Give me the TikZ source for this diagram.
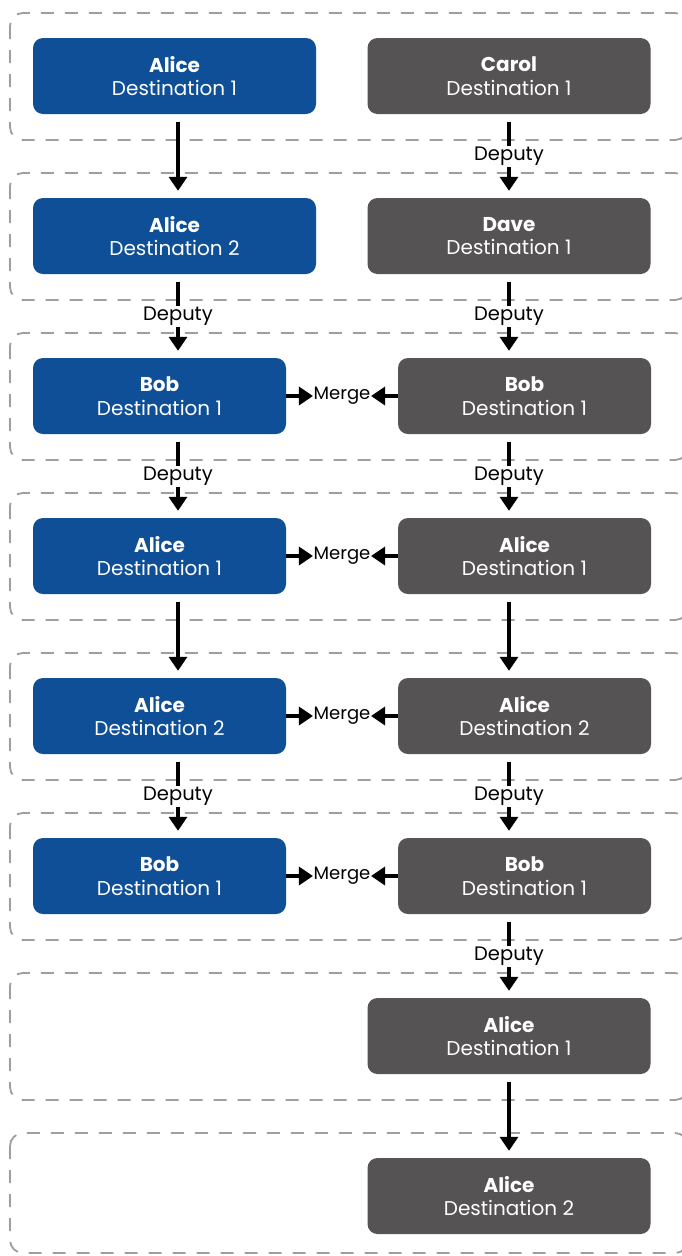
\documentclass[tikz,border=0pt]{standalone}
\usepackage{fontspec}
\setmainfont{Poppins}
\usetikzlibrary{arrows.meta,calc}
\definecolor{nblue}{HTML}{0E4F97}
\definecolor{ngray}{HTML}{555354}
\definecolor{dgray}{HTML}{9E9E9E}
\begin{document}
\begin{tikzpicture}[x=1pt,y=-1pt,
 box/.style={rectangle, rounded corners=10pt, minimum height=76pt, text=white, font=\fontsize{20}{23.5}\selectfont, align=center, inner sep=0pt},
 bluebox/.style={box, fill=nblue},
 graybox/.style={box, fill=ngray},
 wide/.style={minimum width=283pt},
 narrow/.style={minimum width=253pt},
 group/.style={draw=dgray, line width=1.8pt, dash pattern=on 13pt off 11pt, rounded corners=13pt},
 flow/.style={line width=3.3pt, -{Triangle[length=14pt,width=18pt]}},
 lbl/.style={fill=white, text=black, font=\fontsize{19.5}{22}\selectfont, inner sep=1.5pt},
 mlbl/.style={text=black, font=\fontsize{18}{20}\selectfont, inner sep=0.5pt}
]
\useasboundingbox (0,0) rectangle (682,1256);
\fill[white] (0,0) rectangle (682,1256);
\begin{scope}
\clip (0,0) rectangle (682,1256);
\foreach \t/\b in {13/140,173/300,333/460,493/620,653/780,813/940,973/1100,1133/1253}
  \draw[group] (10,\t) rectangle (688,\b);
\end{scope}

\coordinate (cl) at (178,0);
\coordinate (cr) at (509,0);

% left column
\node[bluebox,wide]   (L1) at (174.5,76)  {\textbf{Alice}\\Destination 1};
\node[bluebox,wide]   (L2) at (174.5,236) {\textbf{Alice}\\Destination 2};
\node[bluebox,narrow] (L3) at (159.5,396) {\textbf{Bob}\\Destination 1};
\node[bluebox,narrow] (L4) at (159.5,556) {\textbf{Alice}\\Destination 1};
\node[bluebox,narrow] (L5) at (159.5,716) {\textbf{Alice}\\Destination 2};
\node[bluebox,narrow] (L6) at (159.5,876) {\textbf{Bob}\\Destination 1};
% right column
\node[graybox,wide]   (R1) at (509,76)    {\textbf{Carol}\\Destination 1};
\node[graybox,wide]   (R2) at (509,236)   {\textbf{Dave}\\Destination 1};
\node[graybox,narrow] (R3) at (524.5,396) {\textbf{Bob}\\Destination 1};
\node[graybox,narrow] (R4) at (524.5,556) {\textbf{Alice}\\Destination 1};
\node[graybox,narrow] (R5) at (524.5,716) {\textbf{Alice}\\Destination 2};
\node[graybox,narrow] (R6) at (524.5,876) {\textbf{Bob}\\Destination 1};
\node[graybox,wide]   (R7) at (509,1036)  {\textbf{Alice}\\Destination 1};
\node[graybox,wide]   (R8) at (509,1196)  {\textbf{Alice}\\Destination 2};

% vertical arrows, left
\draw[flow] ($(L1.south -| cl)+(0,8)$) -- ($(L2.north -| cl)+(0,-7)$);
\draw[flow] ($(L2.south -| cl)+(0,8)$) -- node[lbl]{Deputy} ($(L3.north -| cl)+(0,-7)$);
\draw[flow] ($(L3.south -| cl)+(0,8)$) -- node[lbl]{Deputy} ($(L4.north -| cl)+(0,-7)$);
\draw[flow] ($(L4.south -| cl)+(0,8)$) -- ($(L5.north -| cl)+(0,-7)$);
\draw[flow] ($(L5.south -| cl)+(0,8)$) -- node[lbl]{Deputy} ($(L6.north -| cl)+(0,-7)$);
% vertical arrows, right
\draw[flow] ($(R1.south -| cr)+(0,8)$) -- node[lbl]{Deputy} ($(R2.north -| cr)+(0,-7)$);
\draw[flow] ($(R2.south -| cr)+(0,8)$) -- node[lbl]{Deputy} ($(R3.north -| cr)+(0,-7)$);
\draw[flow] ($(R3.south -| cr)+(0,8)$) -- node[lbl]{Deputy} ($(R4.north -| cr)+(0,-7)$);
\draw[flow] ($(R4.south -| cr)+(0,8)$) -- ($(R5.north -| cr)+(0,-7)$);
\draw[flow] ($(R5.south -| cr)+(0,8)$) -- node[lbl]{Deputy} ($(R6.north -| cr)+(0,-7)$);
\draw[flow] ($(R6.south -| cr)+(0,8)$) -- node[lbl]{Deputy} ($(R7.north -| cr)+(0,-7)$);
\draw[flow] ($(R7.south -| cr)+(0,8)$) -- ($(R8.north -| cr)+(0,-7)$);

% merges
\foreach \i in {3,4,5,6}{
  \node[mlbl] (M\i) at ($(L\i.east)!0.5!(R\i.west)$) {Merge};
  \draw[flow] (L\i.east) -- (M\i.west);
  \draw[flow] (R\i.west) -- (M\i.east);
}
\end{tikzpicture}
\end{document}
